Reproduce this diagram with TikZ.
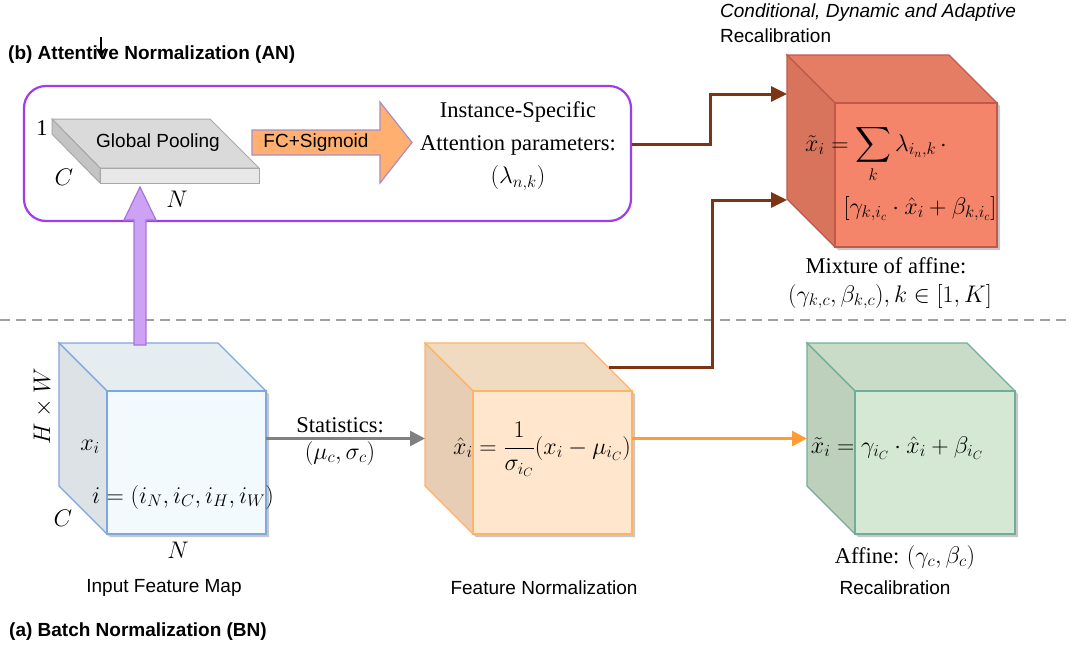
\RequirePackage{fix-cm}
\documentclass[tikz,border=0pt]{standalone}
\usepackage{amsmath}
\usepackage{fontspec}
\setmainfont{Liberation Serif}
\newfontfamily\sansfam{Liberation Sans}
\usetikzlibrary{arrows.meta,calc}

% formulas are set a little larger than the serif text around them
\newcommand\eqtxt[1]{{\fontsize{24}{28}\selectfont$#1$}}

\definecolor{anpurple}{HTML}{A23BEF}
\definecolor{upfill}{HTML}{CDA2F4}
\definecolor{updraw}{HTML}{A874D8}
\definecolor{fcfill}{HTML}{FFB070}
\definecolor{fcdraw}{HTML}{A98CC4}
\definecolor{connbrown}{HTML}{7B3414}
\definecolor{conngray}{HTML}{808080}
\definecolor{connorange}{HTML}{FF9C38}
\definecolor{dashgray}{HTML}{A0A0A0}
% slab colours
\definecolor{slabtop}{HTML}{DADADA}
\definecolor{slabfront}{HTML}{E8E8E8}
\definecolor{slabside}{HTML}{C4C4C4}
\definecolor{slabdraw}{HTML}{A8A8A8}
% cube colours
\definecolor{bluefront}{HTML}{F2FAFE}
\definecolor{bluetop}{HTML}{E6EDF0}
\definecolor{blueside}{HTML}{DCE2E6}
\definecolor{bluedraw}{HTML}{7EA6E0}
\definecolor{orfront}{HTML}{FFE6CC}
\definecolor{ortop}{HTML}{F0DAC0}
\definecolor{orside}{HTML}{E6CDB4}
\definecolor{ordraw}{HTML}{FFB366}
\definecolor{grfront}{HTML}{D5E8D4}
\definecolor{grtop}{HTML}{C9DCC8}
\definecolor{grside}{HTML}{BDD0BC}
\definecolor{grdraw}{HTML}{71AE9A}
\definecolor{rdfront}{HTML}{F4846A}
\definecolor{rdtop}{HTML}{E57D64}
\definecolor{rdside}{HTML}{D8745C}
\definecolor{rddraw}{HTML}{C0594A}

% cube: #1 name, front face (#2,#3)-(#4,#5), fills #6 front, #7 top, #8 side, #9 stroke
\newcommand\drawcube[9]{%
  \pgfmathsetmacro\cubeLx{#2-48}\pgfmathsetmacro\cubeTy{#3-48}%
  \pgfmathsetmacro\cubeRx{#4-48}\pgfmathsetmacro\cubeBy{#5-48}%
  \fill[black,opacity=.22] (\cubeLx+3,\cubeTy+3) -- (\cubeRx+3,\cubeTy+3) -- (#4+3,#3+3)
     -- (#4+3,#5+3) -- (#2+3,#5+3) -- (\cubeLx+3,\cubeBy+3) -- cycle;
  \filldraw[fill=#7,draw=#9,line width=1.2] (\cubeLx,\cubeTy) -- (\cubeRx,\cubeTy) -- (#4,#3) -- (#2,#3) -- cycle;
  \filldraw[fill=#8,draw=#9,line width=1.2] (\cubeLx,\cubeTy) -- (#2,#3) -- (#2,#5) -- (\cubeLx,\cubeBy) -- cycle;
  \node[draw=#9,fill=#6,line width=1.2,inner sep=0,outer sep=0,anchor=north west,
        minimum width={(#4-#2)*1pt},minimum height={(#5-#3)*1pt}] (#1-front) at (#2,#3) {};
  \node[inner sep=0,outer sep=0,minimum width={(#4-\cubeLx)*1pt},minimum height={(#5-\cubeTy)*1pt}]
        (#1) at ({(#4+\cubeLx)/2},{(#5+\cubeTy)/2}) {};
}

\begin{document}
\begin{tikzpicture}[x=1pt,y=-1pt,
  sanslbl/.style={font=\sansfam\fontsize{19}{22}\selectfont,inner sep=0},
  sansbold/.style={font=\sansfam\bfseries\fontsize{19}{22}\selectfont,inner sep=0},
  serlbl/.style={font=\fontsize{22.5}{27}\selectfont,inner sep=0},
  eqlbl/.style={font=\fontsize{24}{28}\selectfont,inner sep=0,anchor=base},
  brownconn/.style={draw=connbrown,line width=3,-{Triangle[length=16pt,width=15pt]}},
  grayconn/.style={draw=conngray,line width=2.5,-{Triangle[length=15pt,width=15pt]}},
  orangeconn/.style={draw=connorange,line width=2.5,-{Triangle[length=15pt,width=15pt]}}]

\useasboundingbox (0,0) rectangle (1071,646);

% separator between the two stages
\draw[dashgray,line width=2,dash pattern=on 10pt off 6pt] (0,320) -- (1071,320);

% ---------------- (b) attentive normalization ----------------
\node[sansbold,anchor=west] (titleAN) at (8,55) {(b) Attentive Normalization (AN)};
\coordinate (ptrTop) at (101,37);
\coordinate (ptrEnd) at (101,58);
\draw[line width=1.4,-{Stealth[length=10pt,width=10pt]}] (ptrTop) -- (ptrEnd);

\node[draw=anpurple,line width=2.2,rounded corners=22pt,minimum width=607pt,minimum height=135pt,
      inner sep=0] (anbox) at (327.5,153.5) {};

% global pooling slab
\filldraw[fill=slabtop,draw=slabdraw,line width=1] (52,119) -- (210,119) -- (259,168) -- (100,168) -- cycle;
\filldraw[fill=slabside,draw=slabdraw,line width=1] (52,119) -- (100,168) -- (100,183) -- (52,134) -- cycle;
\node[draw=slabdraw,fill=slabfront,line width=1,inner sep=0,outer sep=0,anchor=north west,
      minimum width=159pt,minimum height=15pt] (pool) at (100,168) {};
\node[sanslbl] (poolTxt) at (158,143) {Global Pooling};
\node[serlbl] (poolOne) at (42,128) {1};
\node[serlbl] (poolC) at (64,177) {\eqtxt{C}};
\node[serlbl] (poolN) at (177,199) {\eqtxt{N}};

% FC + sigmoid block arrow
\filldraw[fill=fcfill,draw=fcdraw,line width=1.2] (252,130) -- (380,130) -- (380,102) -- (412,142.5)
   -- (380,183) -- (380,155) -- (252,155) -- cycle;
\node[sanslbl] (fc) at (316,142.5) {FC+Sigmoid};

\node[serlbl,align=center,font=\fontsize{22.5}{33}\selectfont] (attn) at (518,146)
  {Instance-Specific\\Attention parameters:\\\eqtxt{(\lambda_{n,k})}};

% ---------------- recalibration mixture ----------------
\node[font=\sansfam\itshape\fontsize{19}{22}\selectfont,inner sep=0,anchor=west] (cdaTxt) at (720,13)
  {Conditional, Dynamic and Adaptive};
\node[sanslbl,anchor=west] (cdaTxt2) at (720,36) {Recalibration};

\drawcube{red}{835}{103}{997}{247}{rdfront}{rdtop}{rdside}{rddraw}
\node[eqlbl] (mixEq1) at (876,151) {$\tilde{x}_i = \displaystyle\sum_k \lambda_{i_n,k}\,\cdot$};
\node[eqlbl] (mixEq2) at (920,214) {$[\gamma_{k,i_c}\cdot\hat{x}_i + \beta_{k,i_c}]$};
\node[serlbl] (mixLbl1) at (886,266) {Mixture of affine:};
\node[eqlbl] (mixLbl2) at (890,302) {$(\gamma_{k,c},\beta_{k,c}), k\in[1,K]$};

% ---------------- (a) batch normalization ----------------
\drawcube{inp}{107}{391}{266}{534}{bluefront}{bluetop}{blueside}{bluedraw}
\drawcube{fn}{473}{391}{632}{534}{orfront}{ortop}{orside}{ordraw}
\drawcube{gr}{855}{391}{1015}{534}{grfront}{grtop}{grside}{grdraw}

% purple block arrow into global pooling
\coordinate (upFoot) at (140,345);
\coordinate (upTip) at (140,187);
\filldraw[fill=upfill,draw=updraw,line width=1.2] ($(upFoot)+(-6,0)$) -- ($(upTip)+(-6,33)$)
   -- ($(upTip)+(-16,33)$) -- (upTip) -- ($(upTip)+(16,33)$) -- ($(upTip)+(6,33)$)
   -- ($(upFoot)+(6,0)$) -- cycle;

\node[serlbl,rotate=90] (hw) at (43,406) {\eqtxt{H\times W}};
\node[serlbl] (xi) at (90,447) {\eqtxt{x_i}};
\node[eqlbl] (idx) at (183,503) {$i = (i_N, i_C, i_H, i_W)$};
\node[serlbl] (inC) at (63,518) {\eqtxt{C}};
\node[serlbl] (inN) at (178,550) {\eqtxt{N}};
\node[sanslbl] (inLbl) at (164,588) {Input Feature Map};
\node[sansbold,anchor=west] (titleBN) at (9,632) {(a) Batch Normalization (BN)};

\node[eqlbl] (fnEq) at (542,454) {$\hat{x}_i = \displaystyle\frac{1}{\sigma_{i_C}}(x_i - \mu_{i_C})$};
\node[sanslbl] (fnLbl) at (544,588) {Feature Normalization};

\node[eqlbl] (grEq) at (897,453) {$\tilde{x}_i = \gamma_{i_C}\cdot\hat{x}_i + \beta_{i_C}$};
\node[serlbl] (grLbl) at (905,557) {Affine: \eqtxt{(\gamma_c,\beta_c)}};
\node[sanslbl] (grLbl2) at (895,588) {Recalibration};

% connectors
\draw[grayconn] (inp.east) -- (fn.west);
\node[serlbl] (statLbl1) at (340,425) {Statistics:};
\node[serlbl] (statLbl2) at (340,453) {\eqtxt{(\mu_c,\sigma_c)}};
\draw[orangeconn] (fn.east) -- (gr.west);

\draw[brownconn] (anbox.east |- 0,144) -| (710,94) -- (red.west |- 0,94);
\coordinate (fnOut) at (608.5,367);
\draw[brownconn] (fnOut) -| (712,200) -- (red.west |- 0,200);

\end{tikzpicture}
\end{document}
